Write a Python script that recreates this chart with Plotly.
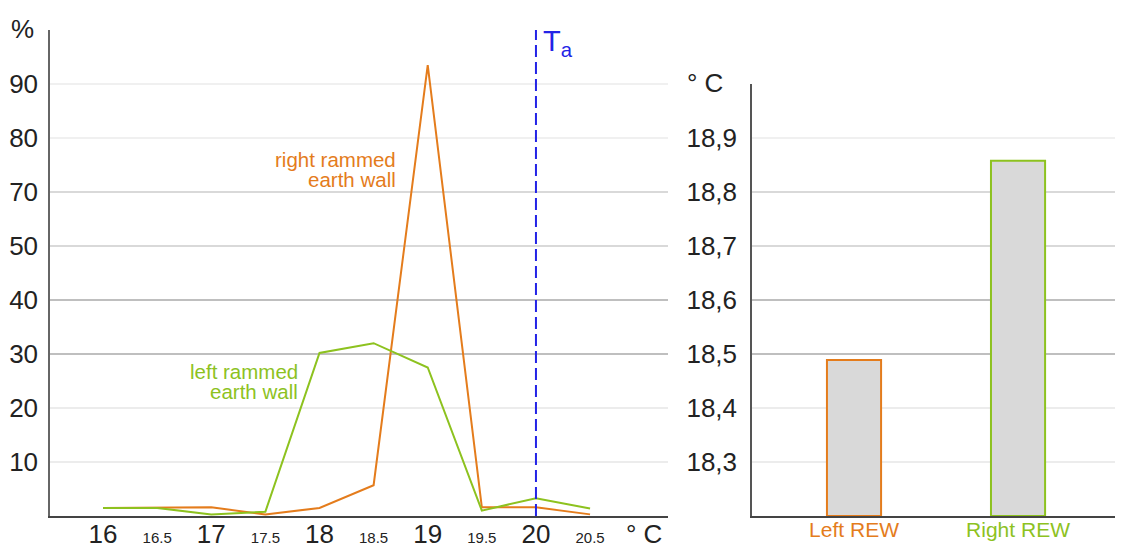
import plotly.graph_objects as go

# ---- data: left chart (distribution of surface temperature) ----
temps = [16, 16.5, 17, 17.5, 18, 18.5, 19, 19.5, 20, 20.5]
left_wall = [1.5, 1.5, 0.3, 0.8, 30.2, 32.0, 27.5, 1.0, 3.3, 1.4]
right_wall = [1.5, 1.5, 1.6, 0.3, 1.5, 5.7, 83.5, 1.6, 1.6, 0.3]
ambient_temp = 20

x_tick_vals = [16, 16.5, 17, 17.5, 18, 18.5, 19, 19.5, 20, 20.5, 21]
x_tick_text = ["16", "16.5", "17", "17.5", "18", "18.5", "19", "19.5", "20", "20.5", "° C"]
x_tick_small = [False, True, False, True, False, True, False, True, False, True, False]

y_tick_vals = [10, 20, 30, 40, 50, 60, 70, 80]
y_tick_text = ["10", "20", "30", "40", "50", "70", "80", "90"]
y_grid_colors = ["#e6e6e6", "#e6e6e6", "#aaaaaa", "#aaaaaa", "#cccccc", "#cccccc", "#ebebeb", "#ebebeb"]

# ---- data: right chart (mean temperature) ----
walls = ["Left REW", "Right REW"]
mean_temp = [18.489, 18.858]
bar_tick_vals = [18.3, 18.4, 18.5, 18.6, 18.7, 18.8, 18.9]
bar_tick_text = ["18,3", "18,4", "18,5", "18,6", "18,7", "18,8", "18,9"]
bar_grid_colors = ["#e6e6e6", "#e6e6e6", "#aaaaaa", "#aaaaaa", "#cccccc", "#cccccc", "#ebebeb"]

ORANGE = "#E47C1C"
GREEN = "#8DC21F"
BLUE = "#2323E6"
FONT = "Liberation Sans, Arial, sans-serif"

# page body has an 8px margin, so the figure starts at (8, 8) in the window
OFF = 8
W, H = 1123 - OFF, 543 - OFF

def px_x(p):
    return (p - OFF) / W

def px_y(p):
    return (H - (p - OFF)) / H

fig = go.Figure()

fig.add_trace(go.Scatter(x=temps, y=right_wall, mode="lines",
                         line=dict(color=ORANGE, width=2), xaxis="x", yaxis="y",
                         showlegend=False, hoverinfo="skip"))
fig.add_trace(go.Scatter(x=temps, y=left_wall, mode="lines",
                         line=dict(color=GREEN, width=2), xaxis="x", yaxis="y",
                         showlegend=False, hoverinfo="skip"))

fig.add_trace(go.Bar(x=[0, 1], y=[v - 18.2 for v in mean_temp], base=18.2, width=0.33,
                     marker=dict(color="#d9d9d9",
                                 line=dict(color=[ORANGE, GREEN], width=2)),
                     xaxis="x2", yaxis="y2", showlegend=False, hoverinfo="skip"))

shapes = []
for v, c in zip(y_tick_vals, y_grid_colors):
    shapes.append(dict(type="line", xref="x domain", yref="y", x0=0, x1=1, y0=v, y1=v,
                       line=dict(color=c, width=1.5), layer="below"))
for v, c in zip(bar_tick_vals, bar_grid_colors):
    shapes.append(dict(type="line", xref="x2 domain", yref="y2", x0=0, x1=1, y0=v, y1=v,
                       line=dict(color=c, width=1.5), layer="below"))
shapes.append(dict(type="line", xref="x", yref="y domain", x0=ambient_temp, x1=ambient_temp,
                   y0=0, y1=1, line=dict(color=BLUE, width=2, dash="12px,5px")))
fig.update_layout(shapes=shapes)

x_labels = []
for t, s in zip(x_tick_text, x_tick_small):
    x_labels.append('<span style="font-size:15px">%s</span>' % t if s else t)

fig.update_layout(
    width=W, height=H,
    margin=dict(l=0, r=0, t=0, b=0),
    paper_bgcolor="white", plot_bgcolor="white",
    font=dict(family=FONT, color="#222222"),
    xaxis=dict(domain=[px_x(50), px_x(668)], range=[15.51, 21.22], automargin=False,
               tickvals=x_tick_vals, ticktext=x_labels, ticks="",
               tickfont=dict(size=26, color="#222222"), showgrid=False, zeroline=False,
               showline=True, linecolor="#444444", linewidth=1.5, ticklabelstandoff=-6),
    yaxis=dict(domain=[px_y(516), px_y(30)], range=[0, 90], automargin=False,
               tickvals=y_tick_vals, ticktext=y_tick_text, ticks="",
               tickfont=dict(size=26, color="#222222"), showgrid=False, zeroline=False,
               showline=True, linecolor="#666666", linewidth=1.5, ticklabelstandoff=5),
    xaxis2=dict(domain=[px_x(752), 1.0], range=[-0.622, 1.64], anchor="y2", automargin=False,
                tickvals=[0, 1],
                ticktext=['<span style="color:%s">%s</span>' % (ORANGE, walls[0]),
                          '<span style="color:%s">%s</span>' % (GREEN, walls[1])],
                ticks="", tickfont=dict(size=21), showgrid=False, zeroline=False,
                showline=True, linecolor="#444444", linewidth=1.5, ticklabelstandoff=-6),
    yaxis2=dict(domain=[px_y(516), px_y(84)], range=[18.2, 19.0], anchor="x2", automargin=False,
                tickvals=bar_tick_vals, ticktext=bar_tick_text, ticks="",
                tickfont=dict(size=26, color="#222222"), showgrid=False, zeroline=False,
                showline=True, linecolor="#555555", linewidth=1.5, ticklabelstandoff=8),
)

annotations = [
    dict(text="%", xref="paper", yref="paper", x=px_x(9), y=px_y(12), xanchor="left",
         yanchor="top", showarrow=False, font=dict(size=26, color="#222222")),
    dict(text="° C", xref="paper", yref="paper", x=px_x(685), y=px_y(66), xanchor="left",
         yanchor="top", showarrow=False, font=dict(size=26, color="#222222")),
    dict(text="T<sub>a</sub>", xref="x", yref="paper", x=ambient_temp, y=px_y(23),
         xanchor="left", yanchor="top", xshift=5, showarrow=False,
         font=dict(size=29, color=BLUE)),
    dict(text="right rammed", xref="paper", yref="paper", x=px_x(398), y=px_y(159),
         xanchor="right", yanchor="middle", showarrow=False,
         font=dict(size=20.5, color=ORANGE)),
    dict(text="earth wall", xref="paper", yref="paper", x=px_x(398), y=px_y(180),
         xanchor="right", yanchor="middle", showarrow=False,
         font=dict(size=20.5, color=ORANGE)),
    dict(text="left rammed", xref="paper", yref="paper", x=px_x(300), y=px_y(372),
         xanchor="right", yanchor="middle", showarrow=False,
         font=dict(size=20.5, color=GREEN)),
    dict(text="earth wall", xref="paper", yref="paper", x=px_x(300), y=px_y(392),
         xanchor="right", yanchor="middle", showarrow=False,
         font=dict(size=20.5, color=GREEN)),
]
fig.update_layout(annotations=annotations)

fig.write_html("out.html")
